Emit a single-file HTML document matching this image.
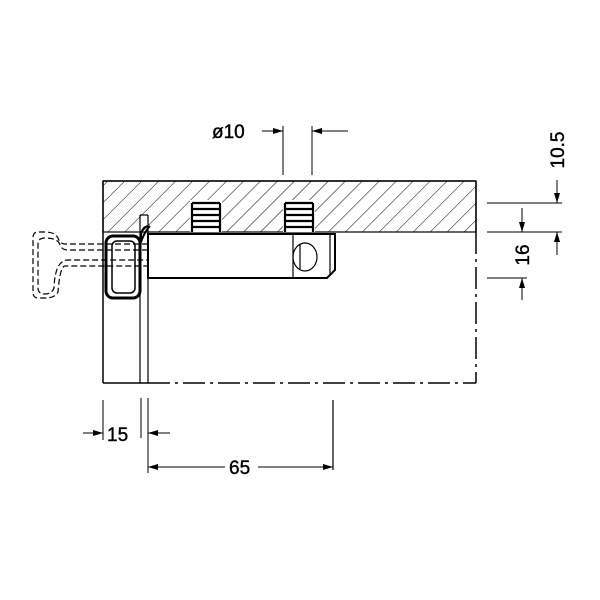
<!DOCTYPE html><html><head><style>body{margin:0;background:#fff}svg{display:block}text{font-family:"Liberation Sans",sans-serif;font-size:19px;fill:#000;stroke:#000;stroke-width:0.4}</style></head><body>
<svg width="600" height="600" viewBox="0 0 600 600" xmlns="http://www.w3.org/2000/svg">
<defs>
<pattern id="h" width="12" height="12" patternUnits="userSpaceOnUse" patternTransform="rotate(45)"><line x1="0" y1="0" x2="0" y2="12" stroke="#000" stroke-width="1"/></pattern>
<marker id="a" viewBox="0 0 10 6" refX="10" refY="3" markerWidth="10" markerHeight="6" orient="auto" markerUnits="userSpaceOnUse"><path d="M0,0L10,3L0,6z"/></marker>
</defs>
<g fill="none" stroke="#000" stroke-width="1.2">
<rect x="103" y="181" width="373" height="51" fill="url(#h)"/>
<line x1="103" y1="181" x2="476" y2="181" stroke-width="1.5"/>
<line x1="103" y1="181" x2="103" y2="383" stroke-width="1.5"/>
<line x1="476" y1="181" x2="476" y2="232" stroke-width="1.5"/>
<line x1="476" y1="232" x2="476" y2="383" stroke-dasharray="22,5,3,5" stroke-width="1.5"/>
<line x1="103" y1="383" x2="148" y2="383" stroke-width="1.5"/>
<line x1="148" y1="383" x2="476" y2="383" stroke-dasharray="22,5,3,5" stroke-width="1.5"/>
<line x1="140" y1="215" x2="140" y2="383"/>
<line x1="148" y1="215" x2="148" y2="383"/>
<line x1="140" y1="215" x2="148" y2="215"/>
<rect x="190" y="200" width="32" height="32" fill="#fff" stroke="none"/>
<rect x="283" y="200" width="32" height="32" fill="#fff" stroke="none"/>
<g stroke-width="2.2">
<path d="M192,203h28M192,209h28M192,215h28M192,221h28M192,227h28M192,203v29M220,203v29"/>
<path d="M285,203h28M285,209h28M285,215h28M285,221h28M285,227h28M285,203v29M313,203v29"/>
</g>
<path d="M148,234H335V270L327,278H148Z" fill="#fff" stroke-width="2"/>
<line x1="293" y1="234" x2="293" y2="278"/>
<line x1="330" y1="234" x2="330" y2="274"/>
<ellipse cx="305" cy="257" rx="12" ry="14"/>
<line x1="300" y1="244" x2="300" y2="270"/>
<rect x="106" y="236" width="34" height="62" rx="7" fill="#fff" stroke-width="3"/>
<rect x="112" y="241" width="23" height="52" rx="5" stroke-width="1.5"/>
<path d="M140,245 Q144,232 150,226 M148,226 Q140,228 141,240" stroke-width="2"/>
<path d="M148,244H65Q60,244 58,238Q55,232 45,232H38Q33,232 33,238V292Q33,298 38,298H45Q55,298 58,292Q60,266 65,266H148" stroke-dasharray="6,3"/>
<path d="M148,250H68Q62,250 60,245Q58,238 45,238Q38,238 38,244V288Q38,294 45,294Q52,294 54,288Q55,260 68,260H148" stroke-dasharray="6,3"/>
<g stroke-width="1">
<line x1="283" y1="126" x2="283" y2="175"/><line x1="312" y1="126" x2="312" y2="175"/>
<line x1="262" y1="131" x2="283" y2="131" marker-end="url(#a)"/>
<line x1="348" y1="131" x2="312" y2="131" marker-end="url(#a)"/>
<line x1="103" y1="400" x2="103" y2="440"/><line x1="141" y1="398" x2="141" y2="438"/><line x1="148" y1="398" x2="148" y2="473"/>
<line x1="83" y1="433" x2="103" y2="433" marker-end="url(#a)"/>
<line x1="170" y1="433" x2="148" y2="433" marker-end="url(#a)"/>
<line x1="333" y1="400" x2="333" y2="470" stroke-width="1.2"/>
<line x1="225" y1="467" x2="148" y2="467" marker-end="url(#a)"/>
<line x1="258" y1="467" x2="333" y2="467" marker-end="url(#a)"/>
<line x1="487" y1="203" x2="562" y2="203"/><line x1="487" y1="232" x2="562" y2="232"/><line x1="487" y1="278" x2="527" y2="278"/>
<line x1="557" y1="180" x2="557" y2="203" marker-end="url(#a)"/>
<line x1="557" y1="255" x2="557" y2="232" marker-end="url(#a)"/>
<line x1="522" y1="208" x2="522" y2="232" marker-end="url(#a)"/>
<line x1="522" y1="300" x2="522" y2="278" marker-end="url(#a)"/>
</g>
</g>
<text x="212" y="138">ø10</text>
<text x="107" y="441">15</text>
<text x="229" y="474">65</text>
<text transform="translate(564,150) rotate(-90)" text-anchor="middle">10.5</text>
<text transform="translate(529,255) rotate(-90)" text-anchor="middle">16</text>
</svg></body></html>
